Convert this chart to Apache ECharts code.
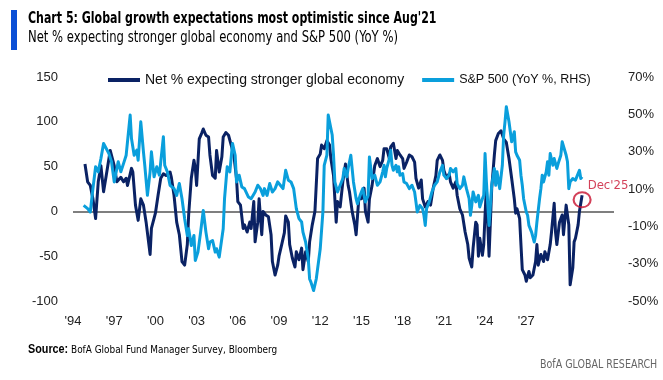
<!DOCTYPE html>
<html>
<head>
<meta charset="utf-8">
<script src="https://cdn.jsdelivr.net/npm/echarts@6/dist/echarts.min.js"></script>
<style>
html,body{margin:0;padding:0;background:#fff;}
#c{width:663px;height:380px;}
</style>
</head>
<body>
<div id="c"></div>
<script>
// x positions are month offsets from Jan 1994 (0 = Jan'94, 383 = Dec'25)
const xTickLabels = ["'94","'97","'00","'03","'06","'09","'12","'15","'18","'21","'24","'27"];

const netMonths = [9,11,13,15,17,19,21,23,25,28,31,33,36,38,40,41,44,45,47,49,51,53,55,58,59,62,64,66,68,70,73,74,76,78,80,82,84,86,87,89,91,92,93,95,97,98,100,102,103,105,107,108,110,112,113,115,117,119,121,123,124,126,128,129,131,133,134,136,137,139,140,142,143,145,147,149,150,152,154,155,157,159,160,162,163,165,167,168,170,172,173,175,177,178,180,182,184,186,187,189,191,193,194,196,198,199,201,203,205,207,208,210,212,213,215,217,219,220,222,223,225,227,229,231,233,234,236,238,239,241,243,244,246,248,249,251,253,255,257,258,260,262,263,265,267,269,271,273,274,276,278,279,281,283,284,286,288,289,291,293,295,297,298,300,301,303,304,305,306,308,309,310,311,313,315,317,318,320,322,323,324,326,328,330,332,333,334,336,337,338,340,341,343,344,346,348,349,350,352,354,355,357,359,360,362,363,364,366,368,369,371,373,374,376,377,378,380,381,383];
const netValues = [53,33,29,14,-8,33,51,22,40,68,51,33,38,33,37,29,48,44,7,-10,14,7,-12,-48,-19,-2,18,37,42,40,44,38,18,-12,-26,-56,-60,-37,-4,37,57,48,29,81,88,92,85,83,63,40,37,68,44,61,83,88,85,74,63,37,11,7,-19,-15,-23,-12,-19,11,-34,-12,14,-26,0,-4,-6,-26,-56,-71,-60,-50,-37,-24,-5,-12,-37,-52,-62,-45,-54,-41,-65,-45,-56,-34,-15,0,59,64,74,70,79,74,59,40,-12,11,5,33,53,29,22,0,-15,-26,14,14,26,0,-12,14,29,51,59,50,57,70,70,59,72,76,59,68,63,59,48,55,63,61,55,37,26,35,14,5,11,7,26,40,57,63,57,46,37,42,33,26,33,18,3,-4,-23,-37,-52,-62,-41,-12,-15,-50,-30,-49,-37,-4,26,-50,26,63,79,87,90,90,81,77,59,37,14,-2,3,-8,-37,-65,-71,-78,-67,-74,-71,-56,-37,-60,-48,-56,-45,-54,-37,-23,9,-23,-37,-12,-4,-26,7,-15,-82,-63,-34,-30,-15,0,18];

const spxMonths = [8,11,13,15,17,19,21,23,24,27,29,31,33,34,36,38,40,43,44,46,48,49,51,53,54,56,58,59,61,63,65,68,69,71,73,76,78,80,82,84,86,87,89,91,92,94,96,98,100,102,103,105,107,108,110,113,114,116,118,120,122,123,125,127,129,132,134,137,139,141,143,144,146,148,150,152,154,156,158,160,162,164,166,168,170,172,173,175,177,178,179,181,183,184,186,188,189,191,192,193,195,196,197,199,201,203,204,206,207,209,211,213,214,216,218,220,222,223,225,227,229,231,233,234,235,236,238,239,240,241,243,244,245,246,248,249,251,253,255,257,258,259,261,263,264,265,266,268,270,272,274,276,278,279,281,283,284,286,288,289,291,293,294,296,298,299,300,301,303,305,306,308,309,310,311,313,315,317,318,319,321,323,324,325,326,328,329,330,332,333,334,336,337,338,339,341,342,343,345,347,348,349,351,352,353,354,356,357,358,359,361,362,364,365,367,368,369,371,372,373,374,376,378,379,381,382,383];
const spxValues = [1.2,-0.5,-2.3,10.2,21.9,19.2,26.3,34.4,35.3,29,24.6,13.8,21,24.6,19.2,23.6,28.1,49.6,37,28.1,30.8,25.4,46,29.9,22.7,6.6,19.2,29.9,16.5,21.9,17.4,38,22.7,19.2,12,10.2,6.6,13,4.8,-5.9,-14.9,-11.3,-20.3,-14.9,-28.3,-23.8,-13.1,-1.5,-13.1,-22,-18.4,-17.6,-23.8,-22,-26.5,-11.3,4.8,21.9,19.2,34.4,28.1,13.8,17.4,11.1,10.2,5.7,4.8,8.4,12,10.2,6.6,10.2,6.6,12.9,8.4,10.2,13.8,12,10.2,20,14.7,13.8,10.2,-0.5,-5.9,-7.7,-13.1,-18.4,-27.4,-38.2,-39.9,-44.4,-38.2,-32.8,-22,-2.3,22.7,28.1,49.6,50.5,38.9,28.1,13.8,8.4,12,15.6,21,16.5,21,28.1,13.8,4.8,2.1,6.6,10.2,3,6.6,27.2,15.6,17.4,12,13.8,19.2,22.7,16.5,21,26.3,30.8,22.7,20,22.7,19.2,21.9,17.4,18.3,13.8,12.9,10.2,12,8.4,3.1,-2.3,1.2,-0.5,-4.1,-9.5,-0.5,3.1,8.4,12,13.8,19.2,22.7,17.4,15.6,17.4,21,19.2,21,12.9,10.2,12,16.5,10.2,4.8,-4.1,1.2,8.4,3.1,6.6,0.4,4.8,6.6,29,13.8,-9.5,12,21,12,19.2,10.2,22.7,38.9,46,54.1,46,40.7,35.3,40.7,29.9,28.1,25.4,17.4,12,4.8,-2.3,-4.1,-9.5,-13.1,-18.4,-14.9,-7.7,4.8,10.2,17.4,13.8,19.2,24.6,17.4,29,22.7,26.3,21,23.6,28.1,35.3,36.2,28.1,24.6,10.2,13.8,15.6,14.7,16.5,20,15.6,16.5];

const highlightMonth = 383;
const highlightValue = 13;
const highlightLabel = "Dec'25";

const netName = 'Net % expecting stronger global economy';
const spxName = 'S&P 500 (YoY %, RHS)';

const zip = (xs, ys) => xs.map((x, i) => [x, ys[i]]);

const NAVY = '#0a2264';
const LIGHT = '#0a9fdc';
const RED = '#c8102e';
const FONT = "'Liberation Sans', Arial, sans-serif";
const NARROW = "'Liberation Sans Narrow', 'Arial Narrow', 'DejaVu Sans Condensed', sans-serif";

const chart = echarts.init(document.getElementById('c'), null, {renderer: 'canvas'});
chart.setOption({
  animation: false,
  backgroundColor: '#fff',
  textStyle: {fontFamily: FONT},
  graphic: [
    {type: 'rect', shape: {x: 11, y: 10, width: 6, height: 40}, style: {fill: '#0b4fd6'}},
    {type: 'text', x: 28, y: 11, scaleX: 0.79, style: {text: "Chart 5: Global growth expectations most optimistic since Aug'21", font: "bold 15.5px " + NARROW, fill: '#000'}},
    {type: 'text', x: 28, y: 31, scaleX: 0.86, style: {text: 'Net % expecting stronger global economy and S&P 500 (YoY %)', font: "15px " + NARROW, fill: '#000'}},
    {type: 'text', x: 28, y: 344, scaleX: 0.9, style: {text: '{b|Source:} BofA Global Fund Manager Survey, Bloomberg', font: "11px " + NARROW, fill: '#000', rich: {b: {fontWeight: 'bold', font: "bold 11px " + NARROW, fill: '#000'}}}},
    {type: 'text', x: 540, y: 359, scaleX: 0.88, style: {text: 'BofA GLOBAL RESEARCH', font: "12px " + NARROW, fill: '#666'}}
  ],
  legend: {
    top: 68, left: 103,
    itemWidth: 32, itemHeight: 4, itemGap: 18,
    icon: 'rect',
    textStyle: {fontSize: 14, color: '#111', fontFamily: FONT},
    data: [
      {name: netName},
      {name: spxName, textStyle: {fontSize: 12.5}}
    ]
  },
  grid: {left: 73, right: 49, top: 77, bottom: 79, containLabel: false},
  xAxis: {
    type: 'value', min: 0, max: 407, interval: 31,
    axisLine: {show: false}, axisTick: {show: false}, splitLine: {show: false},
    axisLabel: {
      margin: 14, fontSize: 13, color: '#222',
      formatter: v => xTickLabels[Math.round(v / 31)] || '',
      showMaxLabel: false
    }
  },
  yAxis: [
    {
      type: 'value', min: -100, max: 150, interval: 50,
      axisLine: {show: false}, axisTick: {show: false}, splitLine: {show: false},
      axisLabel: {margin: 15, fontSize: 13, color: '#222'}
    },
    {
      type: 'value', min: -50, max: 70, interval: 20, position: 'right',
      axisLine: {show: false}, axisTick: {show: false}, splitLine: {show: false},
      axisLabel: {margin: 14, fontSize: 13, color: '#222', formatter: '{value}%'}
    }
  ],
  series: [
    {
      name: netName, type: 'line', yAxisIndex: 0, z: 3,
      data: zip(netMonths, netValues),
      showSymbol: false, symbol: 'none',
      lineStyle: {color: NAVY, width: 3, join: 'round'},
      itemStyle: {color: NAVY},
      markLine: {
        silent: true, symbol: 'none', z: 1,
        label: {show: false},
        lineStyle: {color: '#555', width: 1.5, type: 'solid'},
        data: [{yAxis: 0}]
      }
    },
    {
      name: spxName, type: 'line', yAxisIndex: 1, z: 4,
      data: zip(spxMonths, spxValues),
      showSymbol: false, symbol: 'none',
      lineStyle: {color: LIGHT, width: 3, join: 'round'},
      itemStyle: {color: LIGHT}
    },
    {
      name: 'highlight', type: 'scatter', yAxisIndex: 0, z: 6,
      data: [[highlightMonth, highlightValue]],
      symbol: 'circle', symbolSize: [17, 15],
      itemStyle: {color: 'rgba(0,0,0,0)', borderColor: RED, borderWidth: 2},
      label: {
        show: true, formatter: highlightLabel, position: 'right', distance: 0,
        offset: [-4, -14], color: RED, fontSize: 13, fontFamily: NARROW
      },
      silent: true
    }
  ]
});
</script>
</body>
</html>
